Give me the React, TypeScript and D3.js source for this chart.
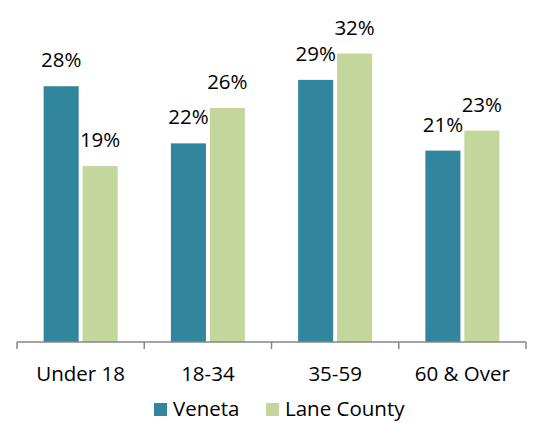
import React from "react";
import * as d3 from "d3";

const categories = ["Under 18", "18-34", "35-59", "60 & Over"];
const seriesNames = ["Veneta", "Lane County"];
const venetaValues = [0.282, 0.219, 0.289, 0.211];
const laneCountyValues = [0.194, 0.258, 0.318, 0.233];
const colors = ["#31859C", "#C3D69B"];

const W = 534;
const H = 423;
const FONT = "'Open Sans', 'Liberation Sans', sans-serif";

export default function App() {
  const x0 = d3.scaleBand<string>().domain(categories).range([17, 526]).padding(0);
  const y = d3.scaleLinear().domain([0, 0.35]).range([342, 342 - 0.35 * 907]);
  const fmt = d3.format(".0%");
  const seriesVals = [venetaValues, laneCountyValues];
  const ticks = categories.map((c) => x0(c)!).concat([x0.range()[1]]);

  return (
    <svg
      width={W}
      height={H}
      style={{ position: "absolute", left: 0, top: 0, background: "#fff" }}
      fontFamily={FONT}
    >
      {categories.map((c, i) => {
        const center = x0(c)! + x0.bandwidth() / 2;
        const x1 = d3
          .scaleBand<string>()
          .domain(seriesNames)
          .range([center - 37, center + 37])
          .paddingInner(0.1);
        return (
          <g key={c}>
            {seriesNames.map((s, j) => {
              const v = seriesVals[j][i];
              const bx = x1(s)!;
              const bw = x1.bandwidth();
              return (
                <g key={s}>
                  <rect x={bx} y={y(v)} width={bw} height={y(0) - y(v)} fill={colors[j]} />
                  <text
                    x={bx + bw / 2}
                    y={y(v) - 19}
                    textAnchor="middle"
                    fontSize={20.5}
                    fill="#000"
                  >
                    {fmt(v)}
                  </text>
                </g>
              );
            })}
            <text x={center} y={381} textAnchor="middle" fontSize={20.5} fill="#000">
              {c}
            </text>
          </g>
        );
      })}
      <line x1={17} x2={526} y1={342} y2={342} stroke="#868686" strokeWidth={1.5} />
      {ticks.map((t, i) => (
        <line key={i} x1={t} x2={t} y1={342} y2={349} stroke="#868686" strokeWidth={1.5} />
      ))}
      {seriesNames.map((s, j) => {
        const lx = j === 0 ? 154 : 266;
        return (
          <g key={s}>
            <rect x={lx} y={403} width={13} height={13} fill={colors[j]} />
            <text x={lx + 19} y={416} fontSize={20.5} fill="#000">
              {s}
            </text>
          </g>
        );
      })}
    </svg>
  );
}
